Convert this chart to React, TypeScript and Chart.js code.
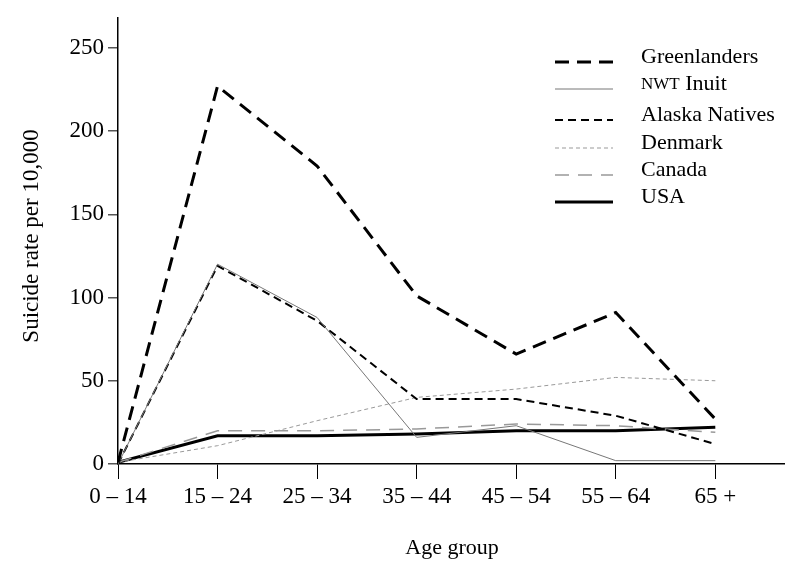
import React, { useEffect, useRef } from "react";
import { Chart, registerables } from "chart.js";

Chart.register(...registerables);

const ageGroups = ["0 – 14", "15 – 24", "25 – 34", "35 – 44", "45 – 54", "55 – 64", "65 +"];
const greenlanders = [1, 227, 179, 101, 66, 91, 27];
const nwtInuit = [0, 120, 88, 16, 23, 2, 2];
const alaskaNatives = [0, 119, 86, 39, 39, 29, 12];
const denmark = [1, 11, 26, 40, 45, 52, 50];
const canada = [1, 20, 20, 21, 24, 23, 19];
const usa = [1, 17, 17, 18, 20, 20, 22];
const yTicks = [0, 50, 100, 150, 200, 250];

const FONT = "'Liberation Serif', 'DejaVu Serif', serif";

type S = { label: string; data: number[]; color: string; width: number; dash: number[] };
const series: S[] = [
  { label: "Greenlanders", data: greenlanders, color: "#000", width: 3, dash: [14, 8] },
  { label: "NWT Inuit", data: nwtInuit, color: "#777", width: 1, dash: [] },
  { label: "Alaska Natives", data: alaskaNatives, color: "#000", width: 2, dash: [8, 5] },
  { label: "Denmark", data: denmark, color: "#999", width: 1, dash: [4, 3] },
  { label: "Canada", data: canada, color: "#999", width: 1.5, dash: [14, 9] },
  { label: "USA", data: usa, color: "#000", width: 3, dash: [] },
];

const legendRows = [57, 84, 115, 143, 170, 197];

const overlay = {
  id: "overlay",
  afterDraw(chart: any) {
    const ctx = chart.ctx;
    ctx.save();
    series.forEach((s, i) => {
      const y = legendRows[i];
      ctx.beginPath();
      ctx.strokeStyle = s.color;
      ctx.lineWidth = s.width;
      ctx.setLineDash(s.dash);
      ctx.moveTo(555, y + 5);
      ctx.lineTo(613, y + 5);
      ctx.stroke();
      ctx.setLineDash([]);
      ctx.fillStyle = "#000";
      ctx.textBaseline = "middle";
      ctx.textAlign = "left";
      if (s.label === "NWT Inuit") {
        ctx.font = `17px ${FONT}`;
        ctx.fillText("NWT", 641, y + 1);
        const w = ctx.measureText("NWT").width;
        ctx.font = `22px ${FONT}`;
        ctx.fillText(" Inuit", 641 + w, y);
      } else {
        ctx.font = `22px ${FONT}`;
        ctx.fillText(s.label, 641, y);
      }
    });
    ctx.font = `22px ${FONT}`;
    ctx.fillStyle = "#000";
    ctx.textAlign = "center";
    ctx.textBaseline = "middle";
    ctx.fillText("Age group", 452, 548);
    ctx.translate(32, 236);
    ctx.rotate(-Math.PI / 2);
    ctx.font = `23px ${FONT}`;
    ctx.fillText("Suicide rate per 10,000", 0, 0);
    ctx.restore();
  },
};

export default function App() {
  const ref = useRef<HTMLCanvasElement>(null);
  useEffect(() => {
    if (!ref.current) return;
    const chart = new Chart(ref.current, {
      type: "line",
      data: {
        datasets: series.map((s) => ({
          label: s.label,
          data: s.data.map((v, i) => ({ x: i, y: v })),
          borderColor: s.color,
          borderWidth: s.width,
          borderDash: s.dash,
          pointRadius: 0,
          fill: false,
          tension: 0,
        })),
      },
      options: {
        animation: false,
        responsive: false,
        devicePixelRatio: 1,
        layout: { padding: { top: 7, right: 0, left: 0, bottom: 0 } },
        plugins: { legend: { display: false }, tooltip: { enabled: false } },
        scales: {
          x: {
            type: "linear",
            min: 0,
            max: 6.7,
            afterBuildTicks: (axis: any) => {
              axis.ticks = ageGroups.map((_, i) => ({ value: i }));
            },
            afterFit: (axis: any) => {
              axis.height = 103;
            },
            grid: { drawOnChartArea: false, tickLength: 15, color: "#000", lineWidth: 1 },
            border: { color: "#000", width: 1.5 },
            ticks: {
              color: "#000",
              font: { family: FONT, size: 23 },
              padding: 4,
              maxRotation: 0,
              autoSkip: false,
              callback: (v: any) => ageGroups[v as number] ?? "",
            },
          },
          y: {
            min: 0,
            max: 268,
            afterBuildTicks: (axis: any) => {
              axis.ticks = yTicks.map((v) => ({ value: v }));
            },
            afterFit: (axis: any) => {
              axis.width = 118;
            },
            grid: { drawOnChartArea: false, tickLength: 10, color: "#555", lineWidth: 1.5 },
            border: { color: "#000", width: 1.5 },
            ticks: {
              color: "#000",
              font: { family: FONT, size: 23 },
              padding: 4,
            },
          },
        },
      },
      plugins: [overlay],
    });
    return () => chart.destroy();
  }, []);
  return (
    <div style={{ position: "absolute", left: 0, top: 0, width: 785, height: 567, background: "#fff" }}>
      <canvas ref={ref} width={785} height={567} style={{ width: 785, height: 567 }} />
    </div>
  );
}
